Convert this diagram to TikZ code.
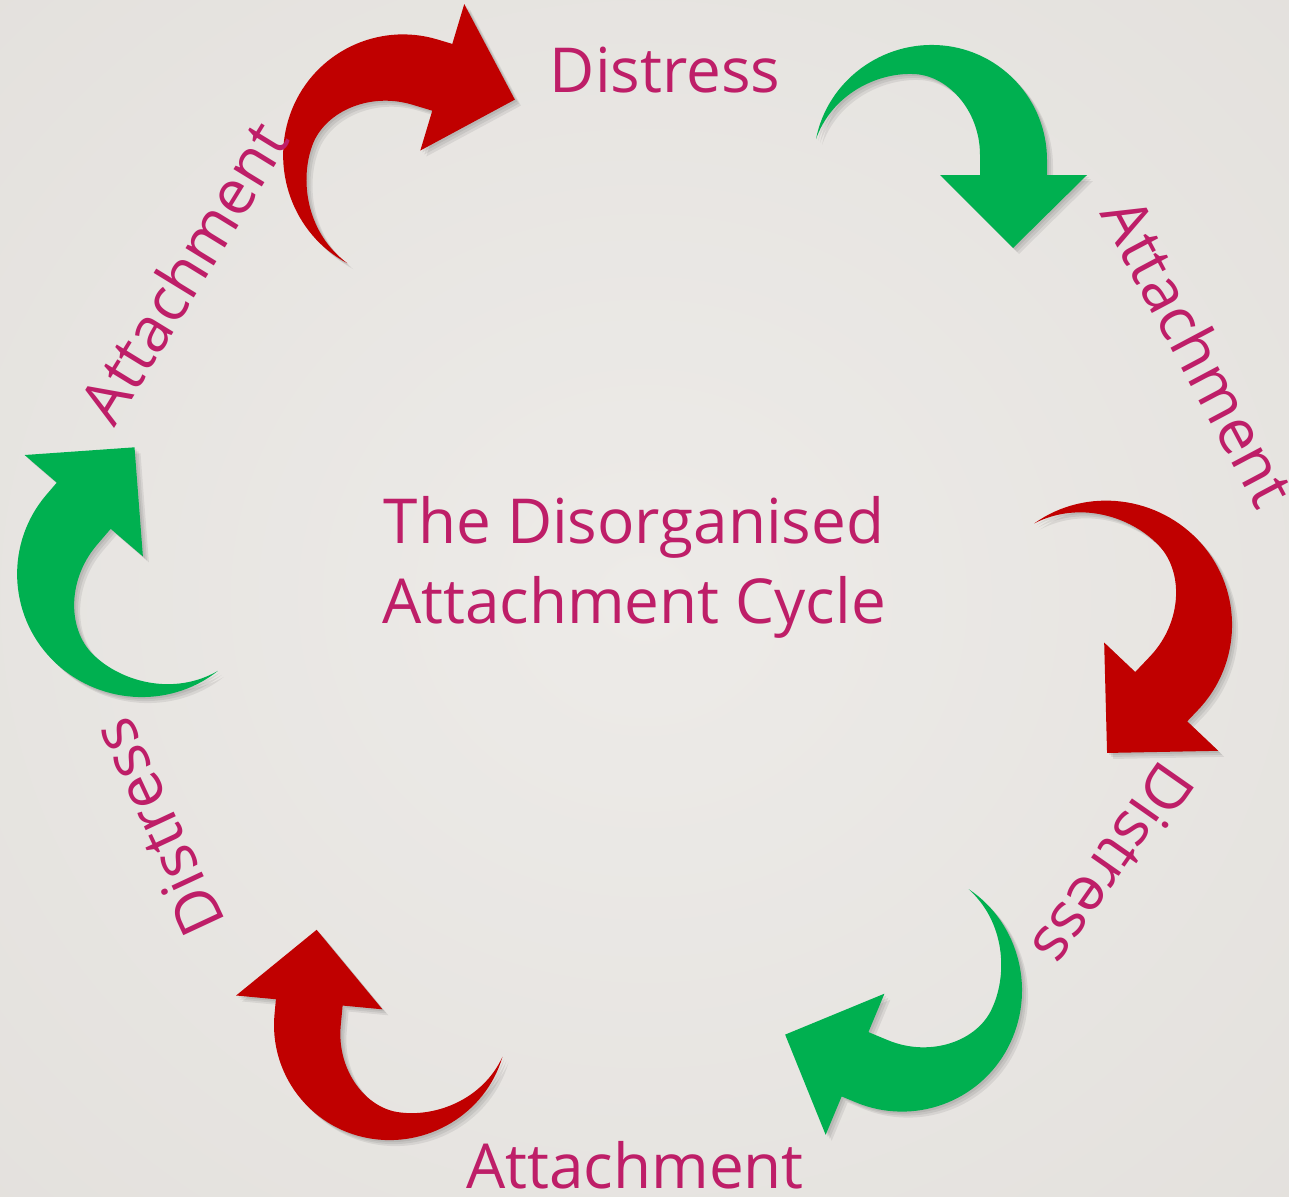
\documentclass[tikz,border=0pt]{standalone}
\usepackage{fontspec}
\setmainfont{Open Sans}
\definecolor{arrred}{RGB}{192,0,0}
\definecolor{arrgreen}{RGB}{0,176,80}
\definecolor{txt}{RGB}{190,30,104}
\definecolor{bgin}{RGB}{237,235,232}
\definecolor{bgout}{RGB}{224,221,217}
\pgfdeclareradialshading{bgshade}{\pgfpoint{0bp}{0bp}}{color(0bp)=(bgin); color(50bp)=(bgout)}
\tikzset{
  cycarrow/.pic={
    \fill[#1] (-116,-21)
      .. controls (-104.5,-79.5) and (-49.4,-119.8) .. (10,-114.6)
      .. controls (69.4,-109.4) and (115,-59.6) .. (115,0)
      -- (115,15) -- (155,15) -- (81,88) -- (8,15) -- (48,15) -- (48,-5)
      .. controls (48,-50) and (15,-86) .. (-20,-86)
      .. controls (-55,-87) and (-100,-66) .. (-116,-21) -- cycle;
  },
  shadowlayer/.style={black,opacity=0.07},
  lbl/.style={text=txt, font=\fontsize{62}{74}\selectfont, inner sep=0pt}
}
\newcommand{\cycarr}[5]{%
  \foreach \d in {2,4,6} {\pic[rotate=#3, scale=#4] at ({#1+\d},{#2+\d}) {cycarrow=shadowlayer};}
  \pic[rotate=#3, scale=#4] at (#1,#2) {cycarrow=#5};}
\begin{document}
\begin{tikzpicture}[x=1pt,y=-1pt]
\useasboundingbox (0,0) rectangle (1289,1196);
\shade[shading=bgshade] (0,0) rectangle (1289,1196);
% arrows
\cycarr{403}{154}{73.3}{1.04}{arrred}
\cycarr{932}{160}{0}{1}{arrgreen}
\cycarr{1109}{625}{-43.5}{1.07}{arrred}
\cycarr{902}{992}{247.4}{1.04}{arrgreen}
\cycarr{389}{1025}{174.6}{1}{arrred}
\cycarr{139}{574}{139.4}{1.06}{arrgreen}
% labels
\node[lbl] (d1) at (665,70) {Distress};
\node[lbl, rotate=-62] (a1) at (1199,352) {Attachment};
\node[lbl, rotate=-125] (d2) at (1114,865) {Distress};
\node[lbl] (a2) at (635,1165) {Attachment};
\node[lbl, rotate=115] (d3) at (157,828) {Distress};
\node[lbl, rotate=58.5] (a3) at (183,272) {Attachment};
\node[lbl, anchor=base] (t1) at (634,543) {The Disorganised};
\node[lbl, anchor=base] (t2) at (634,623) {Attachment Cycle};
\end{tikzpicture}
\end{document}
